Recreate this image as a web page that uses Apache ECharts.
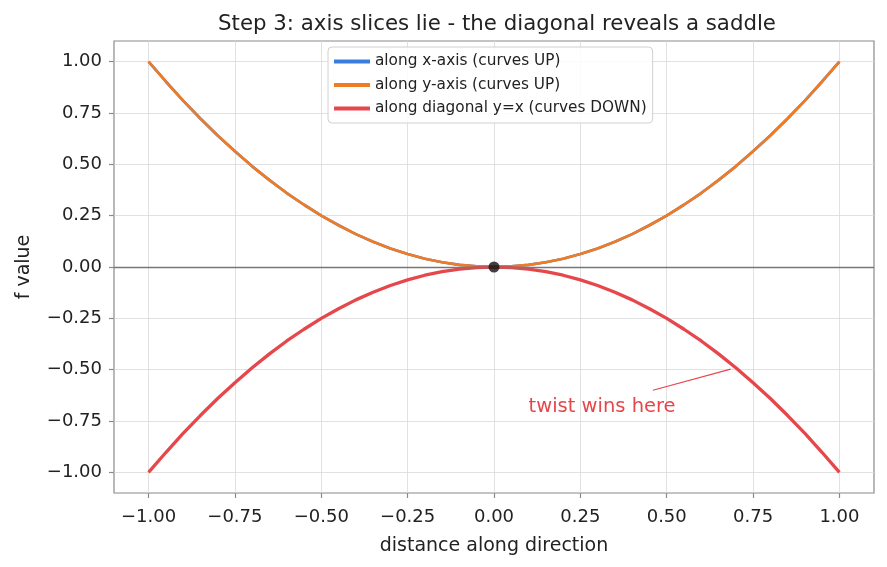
<!DOCTYPE html>
<html>
<head>
<meta charset="utf-8">
<script src="https://cdn.jsdelivr.net/npm/echarts@6/dist/echarts.min.js"></script>
<style>
html, body { margin: 0; padding: 0; background: #fff; }
#container { width: 887px; height: 567px; }
</style>
</head>
<body>
<div id="container"></div>
<script>
// distance along direction (x) and the three slices
var distance = [-1.00, -0.95, -0.90, -0.85, -0.80, -0.75, -0.70, -0.65, -0.60, -0.55, -0.50,
                -0.45, -0.40, -0.35, -0.30, -0.25, -0.20, -0.15, -0.10, -0.05, 0.00,
                0.05, 0.10, 0.15, 0.20, 0.25, 0.30, 0.35, 0.40, 0.45, 0.50,
                0.55, 0.60, 0.65, 0.70, 0.75, 0.80, 0.85, 0.90, 0.95, 1.00];
var alongX = [1.000, 0.903, 0.810, 0.723, 0.640, 0.563, 0.490, 0.423, 0.360, 0.303, 0.250,
              0.203, 0.160, 0.123, 0.090, 0.063, 0.040, 0.023, 0.010, 0.003, 0.000,
              0.003, 0.010, 0.023, 0.040, 0.063, 0.090, 0.123, 0.160, 0.203, 0.250,
              0.303, 0.360, 0.423, 0.490, 0.563, 0.640, 0.723, 0.810, 0.903, 1.000];
var alongY = [1.000, 0.903, 0.810, 0.723, 0.640, 0.563, 0.490, 0.423, 0.360, 0.303, 0.250,
              0.203, 0.160, 0.123, 0.090, 0.063, 0.040, 0.023, 0.010, 0.003, 0.000,
              0.003, 0.010, 0.023, 0.040, 0.063, 0.090, 0.123, 0.160, 0.203, 0.250,
              0.303, 0.360, 0.423, 0.490, 0.563, 0.640, 0.723, 0.810, 0.903, 1.000];
var alongDiag = [-1.000, -0.903, -0.810, -0.723, -0.640, -0.563, -0.490, -0.423, -0.360, -0.303, -0.250,
                 -0.203, -0.160, -0.123, -0.090, -0.063, -0.040, -0.023, -0.010, -0.003, 0.000,
                 -0.003, -0.010, -0.023, -0.040, -0.063, -0.090, -0.123, -0.160, -0.203, -0.250,
                 -0.303, -0.360, -0.423, -0.490, -0.563, -0.640, -0.723, -0.810, -0.903, -1.000];
var xTicks = [-1.00, -0.75, -0.50, -0.25, 0.00, 0.25, 0.50, 0.75, 1.00];
var yTicks = [-1.00, -0.75, -0.50, -0.25, 0.00, 0.25, 0.50, 0.75, 1.00];
var saddlePoint = [0, 0];
var noteText = 'twist wins here';
var notePos = [0.1, -0.68];
var arrowFrom = [0.46, -0.60];
var arrowTo = [0.685, -0.497];

function pairs(xs, ys) {
    return xs.map(function (x, i) { return [x, ys[i]]; });
}
function fmt(v) {
    return v.toFixed(2).replace('-', '\u2212');
}

var dom = document.getElementById('container');
var myChart = echarts.init(dom, null, { renderer: 'canvas' });
var font = 'DejaVu Sans';

function axisCfg(name, ticks, nameGap, labelMargin) {
    return {
        type: 'value', min: -1.1, max: 1.1,
        name: name, nameLocation: 'middle', nameGap: nameGap,
        nameTextStyle: { fontFamily: font, fontSize: 19, color: '#222' },
        axisLine: { show: false, onZero: false },
        axisTick: { show: true, length: 5, customValues: ticks, lineStyle: { color: '#8a8a8a', width: 1.2 } },
        axisLabel: { fontSize: 18, color: '#222', margin: labelMargin, customValues: ticks, formatter: fmt },
        splitLine: { show: true, customValues: ticks, lineStyle: { color: '#d9d9d9', width: 0.8 } }
    };
}

var option = {
    backgroundColor: '#ffffff',
    animation: false,
    textStyle: { fontFamily: font },
    title: {
        text: 'Step 3: axis slices lie - the diagonal reveals a saddle',
        left: 492, top: 9, textAlign: 'center',
        textStyle: { fontFamily: font, fontSize: 21.3, fontWeight: 'normal', color: '#222' }
    },
    legend: {
        orient: 'vertical',
        left: 328, top: 47,
        padding: [7, 6, 7, 6],
        itemGap: 8.5,
        itemWidth: 36, itemHeight: 4,
        backgroundColor: 'rgba(255,255,255,0.85)',
        borderColor: '#d0d0d0', borderWidth: 1, borderRadius: 4,
        textStyle: { fontFamily: font, fontSize: 15.3, color: '#222' },
        data: [
            { name: 'along x-axis (curves UP)', icon: 'rect' },
            { name: 'along y-axis (curves UP)', icon: 'rect' },
            { name: 'along diagonal y=x (curves DOWN)', icon: 'rect' }
        ]
    },
    grid: { left: 114, right: 13, top: 41, bottom: 74, show: true, borderColor: '#8a8a8a', borderWidth: 1.2 },
    xAxis: axisCfg('distance along direction', xTicks, 44, 15),
    yAxis: axisCfg('f value', yTicks, 80, 12),
    series: [
        {
            name: 'along x-axis (curves UP)', type: 'line', showSymbol: false,
            color: '#3b7ddd', lineStyle: { width: 2.7 },
            data: pairs(distance, alongX),
            markLine: {
                silent: true, symbol: ['none', 'none'], label: { show: false },
                lineStyle: { color: '#777', width: 1.3, type: 'solid' },
                data: [{ yAxis: 0 }]
            }
        },
        {
            name: 'along y-axis (curves UP)', type: 'line', showSymbol: false,
            color: '#ef7c25', lineStyle: { width: 2.7 },
            data: pairs(distance, alongY)
        },
        {
            name: 'along diagonal y=x (curves DOWN)', type: 'line', showSymbol: false,
            color: '#e5474b', lineStyle: { width: 3.3 },
            data: pairs(distance, alongDiag),
            markLine: {
                silent: true, symbol: ['none', 'arrow'], symbolSize: [0, 8],
                label: { show: false },
                lineStyle: { color: '#e5474b', width: 1.2, type: 'solid' },
                data: [[{ coord: arrowFrom }, { coord: arrowTo }]]
            },
            markPoint: {
                silent: true, symbol: 'circle', symbolSize: 0,
                label: { show: true, position: 'right', distance: 0, formatter: noteText,
                         color: '#e5474b', fontFamily: font, fontSize: 19.5 },
                data: [{ coord: notePos }]
            }
        },
        {
            name: 'saddle', type: 'scatter', symbolSize: 11,
            itemStyle: { color: '#111111' },
            data: [saddlePoint], z: 5
        }
    ]
};

if (option && typeof option === 'object') {
    myChart.setOption(option, true);
}
</script>
</body>
</html>
